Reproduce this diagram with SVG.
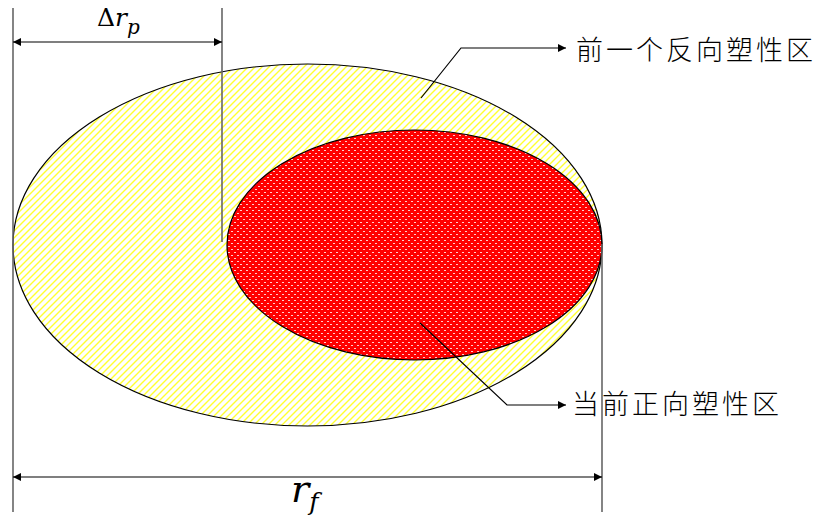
<svg xmlns="http://www.w3.org/2000/svg" width="821" height="520" viewBox="0 0 821 520">
<style>
.dim{stroke:#666;stroke-width:1.6;fill:none}
.arr{stroke:#000;stroke-width:1.2;fill:none}
.cjk{font-family:"Noto Sans CJK SC","Noto Sans CJK JP",sans-serif;font-size:27px;font-weight:300;letter-spacing:3px;fill:#000}
.math{font-family:"DejaVu Serif",serif;fill:#000}
</style>
<defs>
<pattern id="hatch" width="7" height="7" patternUnits="userSpaceOnUse">
<rect width="7" height="7" fill="#ffffff"/>
<path d="M-1.75,1.75 L1.75,-1.75 M0,7 L7,0 M5.25,8.75 L8.75,5.25" stroke="#ffff30" stroke-width="1.4"/>
</pattern>
<pattern id="dots" width="6" height="6" patternUnits="userSpaceOnUse">
<rect x="0" y="0" width="2" height="1" fill="#ffffff"/>
<rect x="3" y="3" width="2" height="1" fill="#ffffff"/>
</pattern>
<marker id="ah" viewBox="0 0 10 10" refX="10" refY="5" markerWidth="8" markerHeight="8" markerUnits="userSpaceOnUse" orient="auto-start-reverse">
<path d="M0,0 L10,5 L0,10 Z" fill="#000"/>
</marker>
</defs>
<g id="prev-plastic-zone">
<ellipse cx="307.5" cy="245" rx="294.5" ry="181" fill="url(#hatch)" stroke="#000" stroke-width="1.2"/>
</g>
<g id="curr-plastic-zone">
<ellipse cx="414.5" cy="245" rx="187.5" ry="115" fill="#ff0000"/>
<ellipse cx="414.5" cy="245" rx="187.5" ry="115" fill="url(#dots)" fill-opacity="0.8" stroke="#000" stroke-width="1.2"/>
</g>
<g id="connectors">
<line class="dim" x1="13" y1="8" x2="13" y2="512"/>
<line class="dim" x1="222" y1="8" x2="222" y2="242"/>
<line class="dim" x1="602" y1="244" x2="602" y2="512"/>
<line class="arr" x1="13" y1="42" x2="222" y2="42" marker-start="url(#ah)" marker-end="url(#ah)"/>
<line class="arr" x1="13" y1="477" x2="602" y2="477" marker-start="url(#ah)" marker-end="url(#ah)"/>
<polyline class="arr" points="421,98 461,48 566,48" marker-end="url(#ah)"/>
<polyline class="arr" points="420,323 507,405 566,405" marker-end="url(#ah)"/>
</g>
<g id="label-dr">
<text class="math" x="97" y="26" font-size="25">Δ<tspan font-style="italic">r</tspan><tspan font-style="italic" font-size="20" dy="8">p</tspan></text>
</g>
<g id="label-rf">
<text class="math" x="291" y="502" font-size="38" font-style="italic">r<tspan font-size="25" dx="0" dy="8">f</tspan></text>
</g>
<g id="label-prev">
<text class="cjk" x="576" y="60">前一个反向塑性区</text>
</g>
<g id="label-curr">
<text class="cjk" x="572" y="414">当前正向塑性区</text>
</g>
</svg>
